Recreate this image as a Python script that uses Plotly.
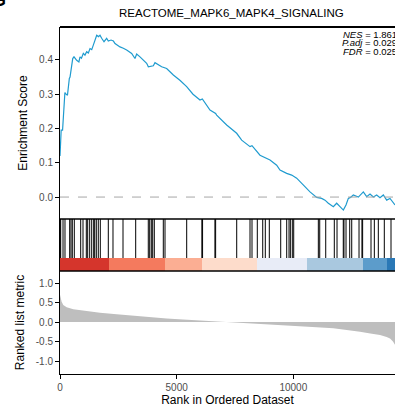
import plotly.graph_objects as go

# ---------------- data ----------------
title_text = "REACTOME_MAPK6_MAPK4_SIGNALING"
stats_labels = ["NES", "P.adj", "FDR"]
stats_values = ["1.861", "0.029", "0.025"]

# running enrichment score (rank, ES)
es_rank = [0, 30, 50, 110, 160, 210, 260, 320, 400, 430, 545, 600, 715, 810, 857, 920,
           1000, 1070, 1143, 1215, 1286, 1360, 1428, 1500, 1573, 1650, 1714, 1786, 1886,
           2000, 2070, 2186, 2290, 2357, 2571, 2714, 2857, 3071, 3214, 3286, 3428, 3714,
           3786, 4000, 4071, 4357, 4571, 4857, 5150, 5428, 5700, 6000, 6100, 6428, 6670,
           6714, 7143, 7571, 7786, 8143, 8229, 8571, 8714, 9000, 9286, 9428, 9714, 9929,
           10143, 10428, 10714, 11000, 11214, 11357, 11500, 11714, 11857, 12000, 12143,
           12257, 12357, 12450, 12571, 12786, 13000, 13143, 13286, 13430, 13571, 13714,
           13857, 14000, 14143, 14357]
es_value = [0.12, 0.17, 0.195, 0.195, 0.25, 0.305, 0.30, 0.297, 0.346, 0.35, 0.404, 0.409,
            0.399, 0.394, 0.409, 0.405, 0.419, 0.414, 0.424, 0.42, 0.433, 0.43, 0.443, 0.458,
            0.472, 0.468, 0.472, 0.463, 0.453, 0.463, 0.455, 0.458, 0.455, 0.448, 0.438,
            0.434, 0.429, 0.419, 0.404, 0.417, 0.409, 0.39, 0.38, 0.383, 0.392, 0.38, 0.375,
            0.356, 0.340, 0.322, 0.300, 0.283, 0.286, 0.254, 0.244, 0.239, 0.21, 0.186,
            0.166, 0.147, 0.150, 0.122, 0.117, 0.108, 0.093, 0.079, 0.069, 0.064, 0.055,
            0.035, 0.015, -0.001, -0.004, -0.009, -0.018, -0.028, -0.018, -0.028, -0.038,
            -0.023, -0.004, -0.001, 0.006, 0.0, 0.015, 0.001, 0.009, 0.0, 0.006, -0.002,
            0.006, -0.009, -0.004, -0.023]

# gene-set hit positions (rank)
hit_ranks = [10, 30, 130, 214, 415, 471, 527, 613, 887, 986, 1127, 1187, 1273, 1359, 1444,
             1487, 1556, 1641, 1727, 2070, 2271, 2700, 3244, 3784, 3844, 3913, 3973, 4042,
             4427, 4500, 5430, 6080, 6110, 6640, 6670, 7573, 8143, 8229, 8456, 8688, 8799,
             8970, 9459, 9716, 9815, 9871, 9956, 10016, 11071, 11131, 11388, 11756, 11872,
             12140, 12170, 12258, 12416, 12502, 12815, 12940, 12970, 13329, 13471, 13642,
             13899, 14186]

# colour band segments (rank edges) and colours
band_edges = [0, 2100, 4500, 6086, 8443, 10586, 12986, 14014, 14600]
band_colors = ["#D5352C", "#F47A5E", "#FBAE93", "#FDDCCB", "#E8ECF7", "#A9C8DF",
               "#5C9CCB", "#2A78B6"]

# ranked list metric (rank, value)
metric_rank = [0, 30, 70, 140, 286, 571, 1000, 1714, 2430, 3130, 3857, 4571, 5271, 6000,
               6700, 7414, 8143, 8800, 9571, 10286, 11000, 11714, 12300, 12857, 13300,
               13714, 14000, 14143, 14271, 14357, 14500]
metric_value = [0.70, 0.60, 0.52, 0.44, 0.38, 0.33, 0.29, 0.24, 0.20, 0.16, 0.12, 0.095,
                0.07, 0.045, 0.025, 0.005, -0.02, -0.04, -0.07, -0.10, -0.13, -0.16, -0.20,
                -0.25, -0.29, -0.33, -0.38, -0.42, -0.50, -0.58, -0.90]

x_ticks = [0, 5000, 10000]
es_ticks = [0.0, 0.1, 0.2, 0.3, 0.4]
metric_ticks = [-1.0, -0.5, 0.0, 0.5, 1.0]

# ---------------- figure ----------------
FONT = "Liberation Sans, Arial, Helvetica, sans-serif"
TICKCOL = "#4D4D4D"
XMAX = 14357

fig = go.Figure()

# enrichment score line
fig.add_trace(go.Scatter(x=es_rank, y=es_value, mode="lines",
                         line=dict(color="#1F9BCF", width=1.2),
                         xaxis="x", yaxis="y3", hoverinfo="skip"))
# zero dashed line
fig.add_trace(go.Scatter(x=[0, XMAX * 1.05], y=[0, 0], mode="lines",
                         line=dict(color="#A6A6A6", width=1, dash="dash"),
                         xaxis="x", yaxis="y3", hoverinfo="skip"))

# color band
centers = [(band_edges[i] + band_edges[i + 1]) / 2 for i in range(len(band_colors))]
widths = [band_edges[i + 1] - band_edges[i] for i in range(len(band_colors))]
fig.add_trace(go.Bar(x=centers, y=[0.25] * len(centers), width=widths,
                     marker=dict(color=band_colors, line=dict(width=0)),
                     xaxis="x", yaxis="y2", hoverinfo="skip"))

# hit lines
hx, hy = [], []
for r in hit_ranks:
    hx += [r, r, None]
    hy += [0.25, 1.0, None]
fig.add_trace(go.Scatter(x=hx, y=hy, mode="lines",
                         line=dict(color="black", width=1),
                         xaxis="x", yaxis="y2", hoverinfo="skip"))

# ranked list metric
fig.add_trace(go.Scatter(x=metric_rank, y=metric_value, mode="lines",
                         fill="tozeroy", fillcolor="#BEBEBE",
                         line=dict(width=0, color="#BEBEBE"),
                         xaxis="x", yaxis="y", hoverinfo="skip"))

d_bottom = [0, 0.2968]
d_mid = [0.2968, 0.4467]
d_top = [0.4467, 1.0]

fig.update_layout(
    width=395, height=409,
    margin=dict(l=60, r=0, t=27, b=35),
    paper_bgcolor="white", plot_bgcolor="white",
    showlegend=False,
    font=dict(family=FONT, color="black"),
    bargap=0,
    xaxis=dict(range=[0, XMAX], tickvals=x_ticks, ticktext=[str(v) for v in x_ticks],
               ticks="outside", ticklen=4, tickcolor="black", showline=True,
               linecolor="black", linewidth=1, showgrid=False, zeroline=False,
               tickfont=dict(size=10, color=TICKCOL),
               title=dict(text="Rank in Ordered Dataset", font=dict(size=12), standoff=3),
               anchor="y"),
    yaxis=dict(domain=d_bottom, range=[-1.33, 1.31], tickvals=metric_ticks,
               ticktext=["-1.0", "-0.5", "0.0", "0.5", "1.0"],
               ticks="outside", ticklen=4, tickcolor="black", showline=True,
               linecolor="black", linewidth=1, showgrid=False, zeroline=False,
               tickfont=dict(size=10, color=TICKCOL),
               title=dict(text="Ranked list metric", font=dict(size=12), standoff=8)),
    yaxis2=dict(domain=d_mid, range=[0, 1], showticklabels=False, ticks="",
                showline=True, linecolor="black", linewidth=1, showgrid=False,
                zeroline=False, anchor="x"),
    yaxis3=dict(domain=d_top, range=[-0.064, 0.496], tickvals=es_ticks,
                ticktext=["0.0", "0.1", "0.2", "0.3", "0.4"],
                ticks="outside", ticklen=4, tickcolor="black", showline=True,
                linecolor="black", linewidth=1, showgrid=False, zeroline=False,
                tickfont=dict(size=10, color=TICKCOL),
                title=dict(text="Enrichment Score", font=dict(size=12), standoff=8),
                anchor="x"),
)

# panel borders
for yy, w in [(1.0, 2), (d_mid[1], 1.5), (d_mid[0], 1.5)]:
    fig.add_shape(type="line", xref="paper", yref="paper", x0=0, x1=1.05, y0=yy, y1=yy,
                  line=dict(color="black", width=w))

# title
fig.add_annotation(text=title_text, xref="paper", yref="paper", x=0.513, y=1.0,
                   yshift=14, showarrow=False, xanchor="center", yanchor="middle",
                   font=dict(size=11.5, color="black"))

# stats text
for i, (lab, val) in enumerate(zip(stats_labels, stats_values)):
    fig.add_annotation(text=f"<i>{lab}</i> = {val}", xref="paper", yref="paper",
                       x=1.012, y=1.0, yshift=-7 - 8.7 * i, showarrow=False,
                       xanchor="right", yanchor="middle",
                       font=dict(size=9.5, color="black"))

# panel label partially cut off at the top-left corner
fig.add_annotation(text="<b>G</b>", xref="paper", yref="paper", x=0, y=1,
                   xshift=-70, yshift=39, showarrow=False, xanchor="left",
                   yanchor="top", font=dict(size=18, color="black"))

fig.write_html("out.html")
